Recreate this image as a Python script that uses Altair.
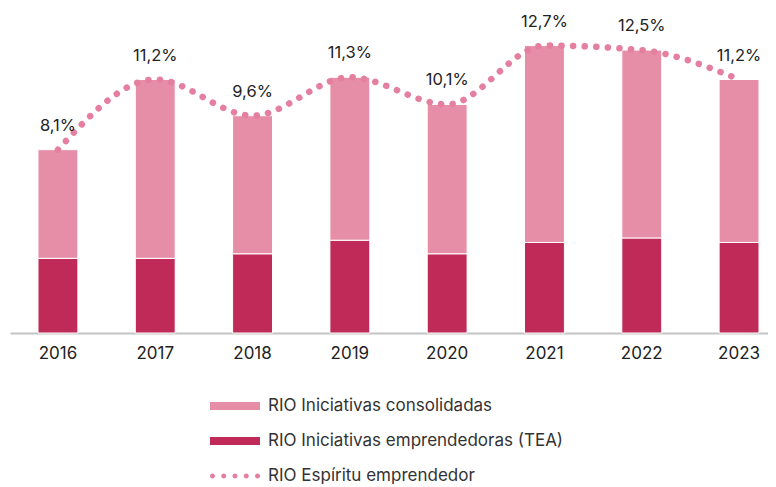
import altair as alt
import pandas as pd

years = ["2016", "2017", "2018", "2019", "2020", "2021", "2022", "2023"]
espiritu = [8.1, 11.2, 9.6, 11.3, 10.1, 12.7, 12.5, 11.2]
tea = [3.3, 3.3, 3.5, 4.1, 3.5, 4.0, 4.2, 4.0]
consolidadas = [4.8, 7.9, 6.1, 7.2, 6.6, 8.7, 8.3, 7.2]

S_CONS = "RIO Iniciativas consolidadas"
S_TEA = "RIO Iniciativas emprendedoras (TEA)"
S_ESP = "RIO Espíritu emprendedor"

rows = []
for y, t, c in zip(years, tea, consolidadas):
    rows.append({"year": y, "serie": S_TEA, "value": t, "orden": 0})
    rows.append({"year": y, "serie": S_CONS, "value": c, "orden": 1})
bars_df = pd.DataFrame(rows)

line_df = pd.DataFrame({
    "year": years,
    "value": espiritu,
    "serie": [S_ESP] * len(years),
    "label": [f"{v:.1f}%".replace(".", ",") for v in espiritu],
})

FONT = "Inter"

# legend symbol paths (unit coords, scaled by sqrt(size)/2)
r = 0.25
dots = ""
for cx in [-0.75, 0.375, 1.5, 2.625, 3.75]:
    dots += f"M{cx - r},0A{r},{r} 0 1,0 {cx + r},0A{r},{r} 0 1,0 {cx - r},0Z"
rect = "M-1,-0.4H4V0.4H-1Z"
shape_expr = f"datum.value === '{S_ESP}' ? '{dots}' : '{rect}'"

color_scale = alt.Scale(
    domain=[S_CONS, S_TEA, S_ESP],
    range=["#E68DA8", "#C02A58", "#E57FA0"],
)

x_enc = alt.X(
    "year:N",
    sort=years,
    scale=alt.Scale(paddingInner=0.59, paddingOuter=0.19, align=0.757),
    axis=alt.Axis(
        title=None,
        labelAngle=0,
        ticks=False,
        domainColor="#c4c4c4",
        domainWidth=2,
        labelFontSize=17,
        labelColor="#222222",
        labelFont=FONT,
        labelPadding=12,
    ),
)

y_scale = alt.Scale(domain=[0, 14.36], nice=False)

legend = alt.Legend(
    title=None,
    orient="none",
    legendX=200,
    legendY=388,
    direction="vertical",
    labelFontSize=17,
    labelFont=FONT,
    labelColor="#333333",
    labelOffset=38,
    labelLimit=0,
    rowPadding=17,
    symbolSize=400,
    symbolType=alt.ExprRef(expr=shape_expr),
    symbolStrokeWidth=0,
    symbolOpacity=1,
)

bars = alt.Chart(bars_df).mark_bar(stroke="white", strokeWidth=1).encode(
    x=x_enc,
    y=alt.Y("value:Q", stack="zero", scale=y_scale, axis=None),
    color=alt.Color("serie:N", scale=color_scale, legend=legend),
    order=alt.Order("orden:Q", sort="ascending"),
)

line = alt.Chart(line_df).mark_line(
    strokeDash=[0.1, 11.5],
    strokeCap="round",
    strokeWidth=6.5,
    interpolate="monotone",
).encode(
    x=alt.X("year:N", sort=years),
    y=alt.Y("value:Q", scale=y_scale),
    color=alt.Color("serie:N", scale=color_scale, legend=legend),
)

labels = alt.Chart(line_df).mark_text(
    dy=-24, fontSize=16.5, font=FONT, color="#222222", baseline="middle"
).encode(
    x=alt.X("year:N", sort=years),
    y=alt.Y("value:Q", scale=y_scale),
    text="label:N",
)

chart = alt.layer(bars, line, labels).properties(
    width=758,
    height=325,
    padding={"left": 2, "top": 0, "right": 0, "bottom": 0},
    background="white",
).configure_view(stroke=None)

chart.save("out.html", embed_options={"renderer": "svg", "actions": False})
